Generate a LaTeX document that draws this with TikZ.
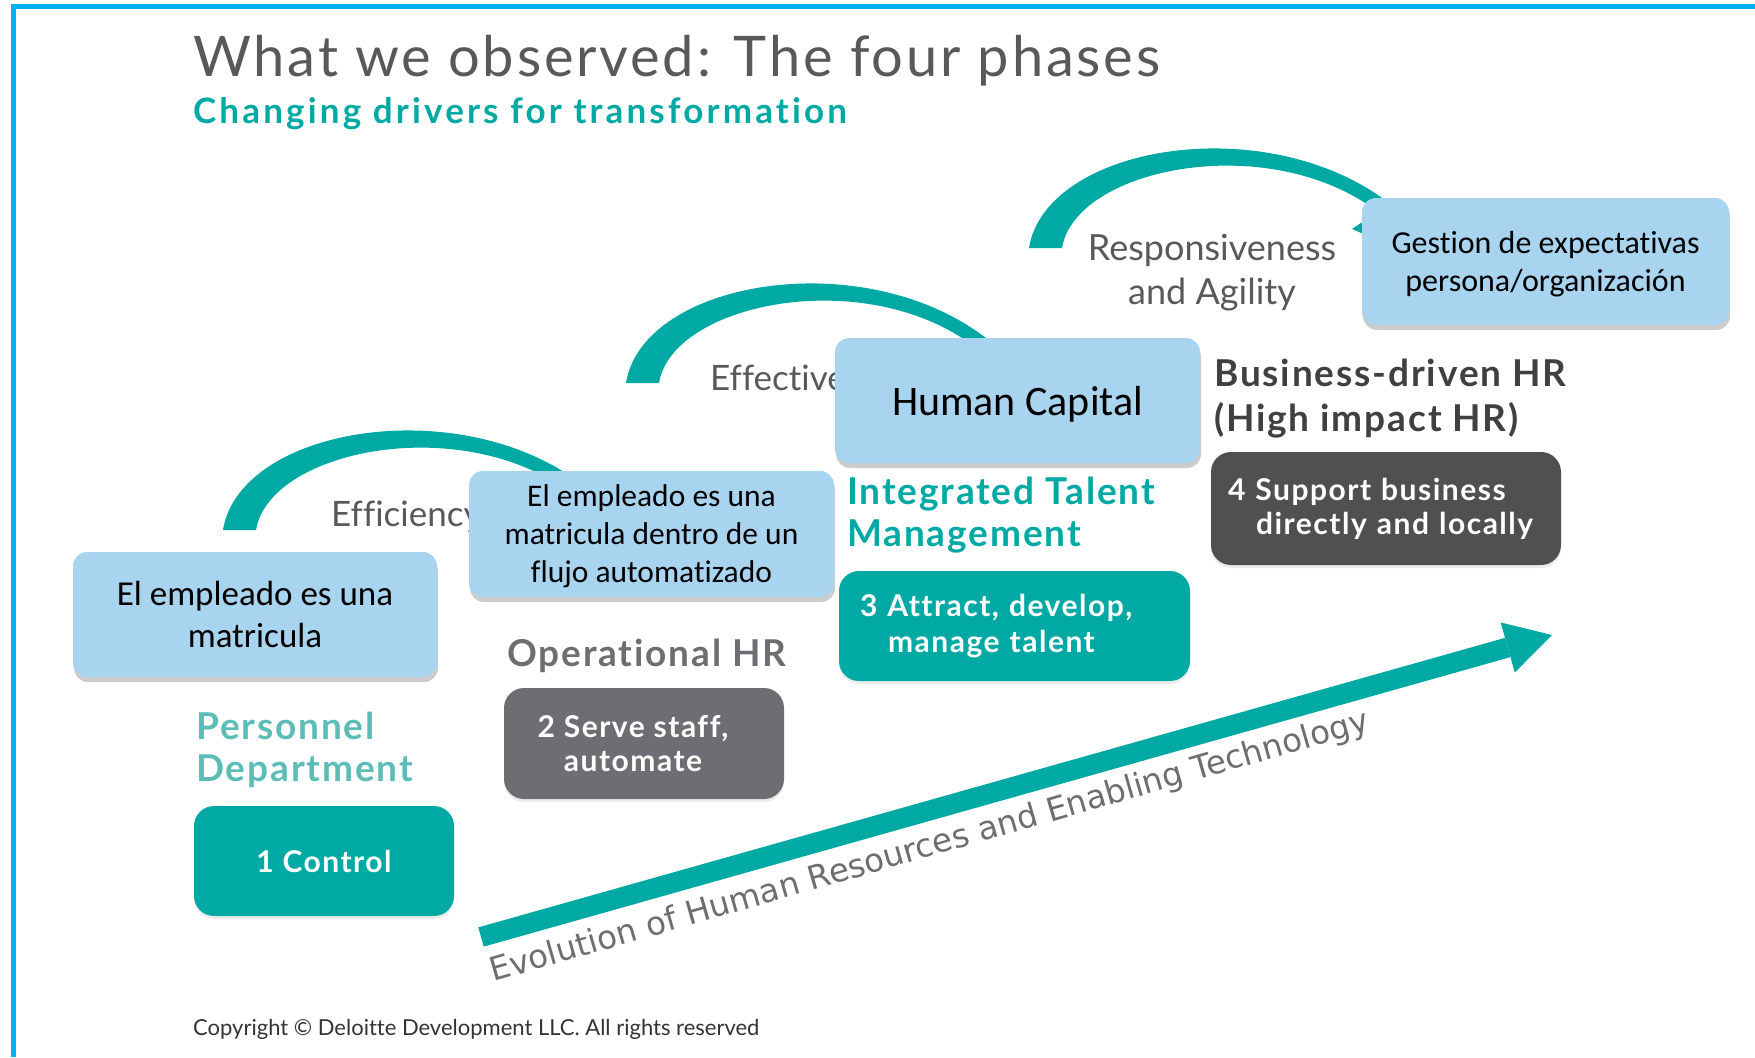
\documentclass[tikz,border=0pt]{standalone}
\usepackage{fontspec}
\setmainfont{Lato}[Ligatures=NoCommon]
\newfontfamily\calfont{Carlito}[Ligatures=NoCommon]
\newfontfamily\dvfont{DejaVu Sans}
\newfontfamily\titlefont{Lato}[LetterSpace=5,Ligatures=NoCommon]
\newfontfamily\subfont{Lato}[LetterSpace=9,Ligatures=NoCommon]
\newfontfamily\lblfont{Lato}[LetterSpace=5,Ligatures=NoCommon]
\usetikzlibrary{shadows,calc}
\definecolor{dteal}{HTML}{00A9A4}
\definecolor{lteal}{HTML}{5CBDB7}
\definecolor{lblue}{HTML}{A9D4EF}
\definecolor{mgray}{HTML}{6D6E71}
\definecolor{dgray}{HTML}{505052}
\definecolor{tgray}{HTML}{58595B}
\definecolor{bgray}{HTML}{404042}
\definecolor{framec}{HTML}{00B0F0}
\newcommand\fs[2]{\fontsize{#1}{#2}\selectfont}
\begin{document}
\begin{tikzpicture}[x=1pt,y=1pt,
  bluebox/.style={fill=lblue, rounded corners=14pt, draw=none, inner sep=0pt, align=center,
    drop shadow={shadow xshift=1pt, shadow yshift=-5pt, opacity=0.4}},
  colbox/.style={rounded corners=20pt, inner sep=0pt, text=white,
    drop shadow={shadow xshift=0pt, shadow yshift=-3pt, opacity=0.15}},
  lbl/.style={anchor=base west, inner sep=0pt},
  drv/.style={anchor=base, inner sep=0pt, text=tgray},
  phase/.style={anchor=base west, inner sep=0pt, font={\lblfont\bfseries\fs{37}{37}}}]
\useasboundingbox (0,0) rectangle (1755,-1057);
% frame
\draw[framec, line width=5pt] (13.5,-1057) -- (13.5,-7) -- (1755,-7);
% title
\node[lbl, font={\titlefont\fs{56}{56}}, text=tgray] (title) at (193,-76) {What we observed: The four phases};
\node[lbl, font={\subfont\bfseries\fs{35}{35}}, text=dteal] (sub) at (193,-123) {Changing drivers for transformation};
% tapered arcs
\foreach \dx/\dy in {0/0, 403/147, 806/282}{
  \fill[dteal] (223+\dx,-530+\dy) .. controls (240+\dx,-424+\dy) and (475+\dx,-388+\dy) .. (595+\dx,-495+\dy)
     -- (585+\dx,-505+\dy) .. controls (480+\dx,-408+\dy) and (270+\dx,-446+\dy) .. (256+\dx,-530+\dy) -- cycle;
}
\fill[dteal] (1352,-229) -- (1395,-200) -- (1400,-250) -- cycle;
% driver texts
\node[lbl, font={\fs{35}{35}}, text=tgray] (eff1) at (331,-526) {Efficiency};
\node[lbl, font={\fs{35}{35}}, text=tgray] (eff2) at (710,-390) {Effectiveness};
\node[drv, font={\fs{36}{36}}] (resp1) at (1212,-260) {Responsiveness};
\node[drv, font={\fs{36}{36}}] (resp2) at (1212,-304) {and Agility};
% phase labels
\node[phase, text=lteal] (pers1) at (196,-739) {Personnel};
\node[phase, text=lteal] (pers2) at (196,-781) {Department};
\node[phase, text=mgray] (oper) at (507,-666) {Operational HR};
\node[phase, text=dteal] (integ1) at (847,-504) {Integrated Talent};
\node[phase, text=dteal] (integ2) at (847,-546) {Management};
\node[phase, text=bgray] (bus1) at (1214,-386) {Business-driven HR};
\node[phase, text=bgray] (bus2) at (1214,-431) {(High impact HR)};
% phase boxes
\node[colbox, fill=dteal, minimum width=260pt, minimum height=110pt, font={\lblfont\bfseries\fs{30}{34}}] (p1) at (324,-861) {1 Control};
\node[colbox, fill=mgray, minimum width=280pt, minimum height=111pt, align=center, font={\lblfont\bfseries\fs{30}{34}}] (p2) at (644,-743.5) {2 Serve staff,\hspace*{22pt}\\automate\hspace*{22pt}};
\node[colbox, fill=dteal, minimum width=351pt, minimum height=110pt, text width=309pt, align=left, font={\lblfont\bfseries\fs{30}{36}}] (p3) at (1014.5,-626) {3 Attract, develop,\\\hspace*{28pt}manage talent};
\node[colbox, fill=dgray, minimum width=350pt, minimum height=113pt, text width=316pt, align=left, font={\lblfont\bfseries\fs{30}{34}}] (p4) at (1386,-508.5) {4 Support business\\\hspace*{28pt}directly and locally};
% evolution arrow
\coordinate (evs) at (481,-937);
\coordinate (evt) at (1552,-635);
\coordinate (evb) at ($(evt)!46pt!(evs)$);
\draw[dteal, line width=20pt] (evs) -- (evb);
\fill[dteal] ($(evb)!26pt!90:(evt)$) -- (evt) -- ($(evb)!26pt!-90:(evt)$) -- cycle;
\node[rotate=16, anchor=base, inner sep=0pt, font={\dvfont\fs{32.5}{32.5}}, text=mgray] (evtxt) at (932,-856) {Evolution of Human Resources and Enabling Technology};
% blue callouts
\node[bluebox, minimum width=364pt, minimum height=125pt, font={\calfont\fs{35}{42.5}}] (bA) at (255,-614.5) {El empleado es una\\matricula};
\node[bluebox, minimum width=365pt, minimum height=126pt, text depth=0pt, font={\calfont\fs{31.5}{38}}] (bB) at (651.5,-534) {El empleado es una\\matricula dentro de un\\flujo automatizado};
\node[bluebox, minimum width=365pt, minimum height=125pt, text depth=0pt, font={\calfont\fs{42}{42}}] (bC) at (1017.5,-400.5) {Human Capital};
\node[bluebox, minimum width=367pt, minimum height=127pt, text depth=0pt, font={\calfont\fs{32}{38}}] (bD) at (1545.5,-261.5) {Gestion de expectativas\\persona/organización};
% copyright
\node[lbl, font={\fs{22}{22}}, text=black!80] (copy) at (193,-1035) {Copyright © Deloitte Development LLC. All rights reserved};
\end{tikzpicture}
\end{document}
